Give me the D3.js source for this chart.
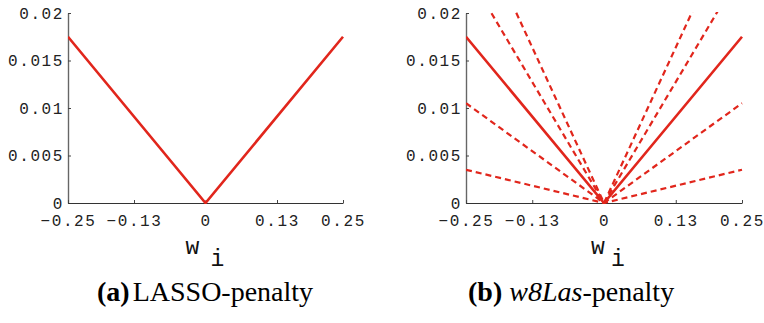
<!DOCTYPE html>
<html>
<head>
<meta charset="utf-8">
<script src="https://cdn.jsdelivr.net/npm/d3@7"></script>
<style>
  body { margin: 0; background: #fff; }
  .tick text { font-family: "Liberation Mono", monospace; font-size: 16px; letter-spacing: 1.6px; fill: #222; }
  .caption { font-family: "Liberation Serif", serif; font-size: 28px; fill: #000; }
  .wlabel { font-family: "Liberation Mono", monospace; font-size: 23px; fill: #111; }
</style>
</head>
<body>
<div id="chart"></div>
<script>
var width = 764;
var height = 323;

// data
var xTicks = [-0.25, -0.13, 0, 0.13, 0.25];
var yTicks = [0, 0.005, 0.01, 0.015, 0.02];
var wPoints = [-0.25, 0, 0.25];
var lassoPenalty = [0.0175, 0, 0.0175];
var w8lasSolid = [0.0175, 0, 0.0175];
var w8lasDashed = [
  [0.0035, 0, 0.0035],
  [0.0105, 0, 0.0105],
  [0.0245, 0, 0.0245],
  [0.0315, 0, 0.0315]
];

var red = "#e1261c";

var svg = d3.select("#chart")
  .append("svg")
  .attr("width", width)
  .attr("height", height);

var panels = [
  { id: "a", left: 68, right: 343, solid: [lassoPenalty], dashed: [], wOff: [-13, 12] },
  { id: "b", left: 466, right: 742, solid: [w8lasSolid], dashed: w8lasDashed, wOff: [-6, 14] }
];

panels.forEach(function(p) {
  var x = d3.scaleLinear().domain([-0.25, 0.25]).range([p.left, p.right]);
  var y = d3.scaleLinear().domain([0, 0.02]).range([203, 13]);

  var g = svg.append("g");

  g.append("clipPath")
    .attr("id", "clip-" + p.id)
    .append("rect")
    .attr("x", p.left)
    .attr("y", 12)
    .attr("width", p.right - p.left + 1)
    .attr("height", 192);

  // axes
  var yAxis = d3.axisLeft(y)
    .tickValues(yTicks)
    .tickFormat(d3.format(""))
    .tickSizeInner(-3)
    .tickSizeOuter(0)
    .tickPadding(4);

  var xAxis = d3.axisBottom(x)
    .tickValues(xTicks)
    .tickFormat(d3.format(""))
    .tickSizeInner(-3)
    .tickSizeOuter(0)
    .tickPadding(9);

  var gy = g.append("g")
    .attr("transform", "translate(" + p.left + ",0)")
    .call(yAxis);
  gy.select(".domain").attr("stroke", "#666").attr("stroke-width", 1.4);
  gy.selectAll(".tick line").attr("stroke", "#444");

  var gx = g.append("g")
    .attr("transform", "translate(0," + y(0) + ")")
    .call(xAxis);
  gx.select(".domain").attr("stroke", "#333");
  gx.selectAll(".tick line").attr("stroke", "#444");
  gx.selectAll(".tick text").attr("dy", "0.9em");

  var line = d3.line()
    .x(function(d, i) { return x(wPoints[i]); })
    .y(function(d) { return y(d); });

  var plot = g.append("g").attr("clip-path", "url(#clip-" + p.id + ")");

  plot.selectAll("path.dashed")
    .data(p.dashed)
    .enter()
    .append("path")
    .attr("class", "dashed")
    .attr("d", line)
    .attr("fill", "none")
    .attr("stroke", red)
    .attr("stroke-width", 2.2)
    .attr("stroke-dasharray", "6,4");

  plot.selectAll("path.solid")
    .data(p.solid)
    .enter()
    .append("path")
    .attr("class", "solid")
    .attr("d", line)
    .attr("fill", "none")
    .attr("stroke", red)
    .attr("stroke-width", 2.6);

  // axis label w_i
  g.append("text")
    .attr("class", "wlabel")
    .attr("x", x(0) + p.wOff[0])
    .attr("y", 254)
    .attr("text-anchor", "middle")
    .text("w");
  g.append("text")
    .attr("class", "wlabel")
    .attr("x", x(0) + p.wOff[1])
    .attr("y", 266)
    .attr("text-anchor", "middle")
    .attr("font-size", 19)
    .text("i");
});

// captions
var capA = svg.append("text")
  .attr("class", "caption")
  .attr("x", 97)
  .attr("y", 301);
capA.append("tspan").attr("font-weight", "bold").text("(a)");
capA.append("tspan").attr("dx", 3).text("LASSO-penalty");

var capB = svg.append("text")
  .attr("class", "caption")
  .attr("x", 468)
  .attr("y", 301);
capB.append("tspan").attr("font-weight", "bold").text("(b)");
capB.append("tspan").attr("dx", 7).attr("font-style", "italic").text("w8Las");
capB.append("tspan").text("-penalty");
</script>
</body>
</html>
